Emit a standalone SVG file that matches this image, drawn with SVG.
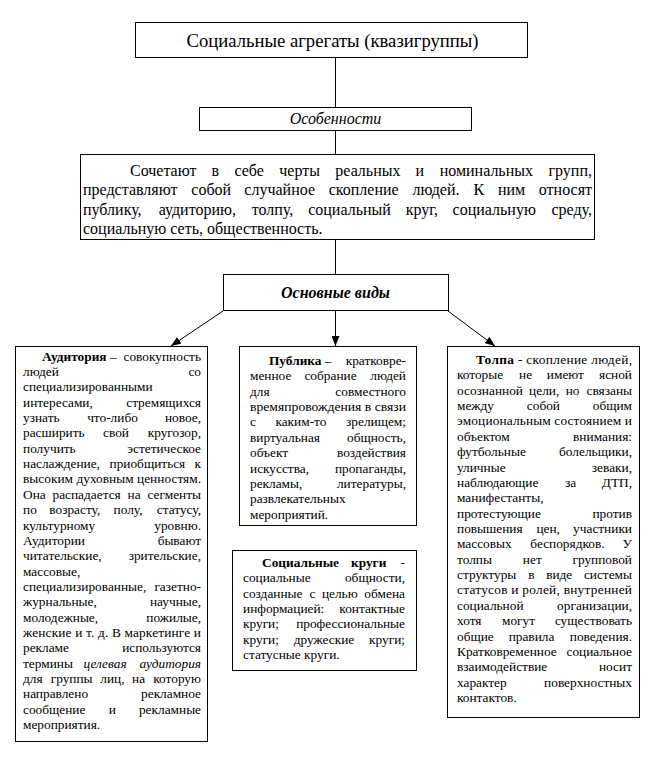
<svg xmlns="http://www.w3.org/2000/svg" width="657" height="767" viewBox="0 0 657 767" font-family="'Liberation Serif', serif">
<style>
text{font-family:'Liberation Serif',serif;font-size:13.33px;fill:#000}
.box{fill:#fff;stroke:#000;stroke-width:1}
.ln{stroke:#000;stroke-width:1;fill:none}
text.d{font-size:16px}
text.h{font-size:18.67px}
.te{text-anchor:end}
.tm{text-anchor:middle}
.b{font-weight:bold}
.i{font-style:italic}
</style>
<defs>
<marker id="ah" markerWidth="10" markerHeight="8" refX="10" refY="4" orient="auto" markerUnits="userSpaceOnUse"><path d="M0,0 L10,4 L0,8 z" fill="#000"/></marker>
</defs>
<rect width="657" height="767" fill="#fff"/>
<g id="connectors">
<line class="ln" x1="335.5" y1="58" x2="335.5" y2="107"/>
<line class="ln" x1="335.5" y1="131" x2="335.5" y2="154"/>
<line class="ln" x1="335.5" y1="240" x2="335.5" y2="274"/>
<line class="ln" x1="223" y1="311" x2="171" y2="346" marker-end="url(#ah)"/>
<line class="ln" x1="335.5" y1="311" x2="335.5" y2="346" marker-end="url(#ah)"/>
<line class="ln" x1="448" y1="311" x2="495" y2="346" marker-end="url(#ah)"/>
</g>
<g id="title">
<rect class="box" x="135.5" y="22.5" width="392" height="35"/>
<text class="tm h" x="332.5" y="46.5">Социальные агрегаты (квазигруппы)</text>
</g>
<g id="features">
<rect class="box" x="199.5" y="107.5" width="272" height="23"/>
<text class="tm i d" x="335.5" y="124">Особенности</text>
</g>
<g id="description">
<rect class="box" x="80.5" y="154.5" width="514" height="85"/>
<text class="d" x="130" y="176">Сочетают</text>
<text class="d tm" x="215.4" y="176">в</text>
<text class="d tm" x="249.2" y="176">себе</text>
<text class="d tm" x="299.6" y="176">черты</text>
<text class="d tm" x="367.9" y="176">реальных</text>
<text class="d tm" x="419.9" y="176">и</text>
<text class="d tm" x="486.3" y="176">номинальных</text>
<text class="d te" x="592" y="176">групп,</text>
<text class="d" x="83" y="195.3">представляют</text>
<text class="d tm" x="211.2" y="195.3">собой</text>
<text class="d tm" x="279.7" y="195.3">случайное</text>
<text class="d tm" x="363.7" y="195.3">скопление</text>
<text class="d tm" x="436" y="195.3">людей.</text>
<text class="d tm" x="478.9" y="195.3">К</text>
<text class="d tm" x="511.6" y="195.3">ним</text>
<text class="d te" x="592" y="195.3">относят</text>
<text class="d" x="83" y="214.6">публику,</text>
<text class="d tm" x="197.3" y="214.6">аудиторию,</text>
<text class="d tm" x="272.4" y="214.6">толпу,</text>
<text class="d tm" x="349.5" y="214.6">социальный</text>
<text class="d tm" x="421.9" y="214.6">круг,</text>
<text class="d tm" x="494.2" y="214.6">социальную</text>
<text class="d te" x="592" y="214.6">среду,</text>
<text class="d" x="83" y="233.9">социальную сеть, общественность.</text>
</g>
<g id="main-types">
<rect class="box" x="223.5" y="274.5" width="225" height="36"/>
<text class="tm b i d" x="335.5" y="297.5">Основные виды</text>
</g>
<g id="audience">
<rect class="box" x="15.5" y="346.5" width="192" height="395"/>
<text x="42" y="360.5"><tspan class="b">Аудитория</tspan> –</text><text class="te" x="201" y="360.5">совокупность</text>
<text x="23" y="375.9">людей</text><text class="te" x="201" y="375.9">со</text>
<text x="23" y="391.2">специализированными</text>
<text x="23" y="406.6">интересами,</text><text class="te" x="201" y="406.6">стремящихся</text>
<text x="23" y="421.9">узнать</text><text class="tm" x="112.5" y="421.9">что-либо</text><text class="te" x="201" y="421.9">новое,</text>
<text x="23" y="437.3">расширить</text><text class="tm" x="116" y="437.3">свой</text><text class="te" x="201" y="437.3">кругозор,</text>
<text x="23" y="452.7">получить</text><text class="te" x="201" y="452.7">эстетическое</text>
<text x="23" y="468">наслаждение,</text><text class="tm" x="147.4" y="468">приобщиться</text><text class="te" x="201" y="468">к</text>
<text x="23" y="483.4" textLength="178" lengthAdjust="spacing">высоким духовным ценностям.</text>
<text x="23" y="498.7">Она</text><text class="tm" x="86.6" y="498.7">распадается</text><text class="tm" x="134.1" y="498.7">на</text><text class="te" x="201" y="498.7">сегменты</text>
<text x="23" y="514.1">по</text><text class="tm" x="74.8" y="514.1">возрасту,</text><text class="tm" x="128" y="514.1">полу,</text><text class="te" x="201" y="514.1">статусу,</text>
<text x="23" y="529.5">культурному</text><text class="te" x="201" y="529.5">уровню.</text>
<text x="23" y="544.8">Аудитории</text><text class="te" x="201" y="544.8">бывают</text>
<text x="23" y="560.2">читательские,</text><text class="te" x="201" y="560.2">зрительские,</text>
<text x="23" y="575.5">массовые,</text>
<text x="23" y="590.9">специализированные,</text><text class="te" x="201" y="590.9">газетно-</text>
<text x="23" y="606.3">журнальные,</text><text class="te" x="201" y="606.3">научные,</text>
<text x="23" y="621.6">молодежные,</text><text class="te" x="201" y="621.6">пожилые,</text>
<text x="23" y="637" textLength="178" lengthAdjust="spacing">женские и т. д. В маркетинге и</text>
<text x="23" y="652.3">рекламе</text><text class="te" x="201" y="652.3">используются</text>
<text x="23" y="667.7">термины</text><text class="tm i" x="105" y="667.7">целевая</text><text class="te i" x="201" y="667.7">аудитория</text>
<text x="23" y="683.1">для</text><text class="tm" x="71.6" y="683.1">группы</text><text class="tm" x="112.4" y="683.1">лиц,</text><text class="tm" x="138.6" y="683.1">на</text><text class="te" x="201" y="683.1">которую</text>
<text x="23" y="698.4">направлено</text><text class="te" x="201" y="698.4">рекламное</text>
<text x="23" y="713.8">сообщение</text><text class="tm" x="112.2" y="713.8">и</text><text class="te" x="201" y="713.8">рекламные</text>
<text x="23" y="729.1">мероприятия.</text>
</g>
<g id="public">
<rect class="box" x="239.5" y="346.5" width="177" height="179"/>
<text x="269" y="365"><tspan class="b">Публика</tspan> –</text><text class="te" x="406" y="365">кратковре-</text>
<text x="250" y="380.4">менное</text><text class="tm" x="330.5" y="380.4">собрание</text><text class="te" x="406" y="380.4">людей</text>
<text x="250" y="395.7">для</text><text class="te" x="406" y="395.7">совместного</text>
<text x="250" y="411.1" textLength="156" lengthAdjust="spacingAndGlyphs">времяпровождения в связи</text>
<text x="250" y="426.4">с</text><text class="tm" x="300.9" y="426.4">каким-то</text><text class="te" x="406" y="426.4">зрелищем;</text>
<text x="250" y="441.8">виртуальная</text><text class="te" x="406" y="441.8">общность,</text>
<text x="250" y="457.2">объект</text><text class="te" x="406" y="457.2">воздействия</text>
<text x="250" y="472.5">искусства,</text><text class="te" x="406" y="472.5">пропаганды,</text>
<text x="250" y="487.9">рекламы,</text><text class="te" x="406" y="487.9">литературы,</text>
<text x="250" y="503.2">развлекательных</text>
<text x="250" y="518.6">мероприятий.</text>
</g>
<g id="social-circles">
<rect class="box" x="232.5" y="550.5" width="184" height="120"/>
<text class="b" x="262" y="567">Социальные</text><text class="tm b" x="368.7" y="567">круги</text><text class="te" x="405" y="567">-</text>
<text x="243" y="582.4">социальные</text><text class="te" x="405" y="582.4">общности,</text>
<text x="243" y="597.7">созданные</text><text class="tm" x="312.4" y="597.7">с</text><text class="tm" x="339.8" y="597.7">целью</text><text class="te" x="405" y="597.7">обмена</text>
<text x="243" y="613.1">информацией:</text><text class="te" x="405" y="613.1">контактные</text>
<text x="243" y="628.4">круги;</text><text class="te" x="405" y="628.4">профессиональные</text>
<text x="243" y="643.8">круги;</text><text class="tm" x="324" y="643.8">дружеские</text><text class="te" x="405" y="643.8">круги;</text>
<text x="243" y="659.2">статусные круги.</text>
</g>
<g id="crowd">
<rect class="box" x="447.5" y="346.5" width="192" height="371"/>
<text x="476" y="364" textLength="156" lengthAdjust="spacing"><tspan class="b">Толпа</tspan> - скопление людей,</text>
<text x="457" y="379.4">которые</text><text class="tm" x="525.6" y="379.4">не</text><text class="tm" x="565.4" y="379.4">имеют</text><text class="te" x="632" y="379.4">ясной</text>
<text x="457" y="394.7">осознанной</text><text class="tm" x="544.2" y="394.7">цели,</text><text class="tm" x="572.6" y="394.7">но</text><text class="te" x="632" y="394.7">связаны</text>
<text x="457" y="410.1">между</text><text class="tm" x="543.4" y="410.1">собой</text><text class="te" x="632" y="410.1">общим</text>
<text x="457" y="425.4" textLength="175" lengthAdjust="spacing">эмоциональным состоянием и</text>
<text x="457" y="440.8">объектом</text><text class="te" x="632" y="440.8">внимания:</text>
<text x="457" y="456.2">футбольные</text><text class="te" x="632" y="456.2">болельщики,</text>
<text x="457" y="471.5">уличные</text><text class="te" x="632" y="471.5">зеваки,</text>
<text x="457" y="486.9">наблюдающие</text><text class="tm" x="570.5" y="486.9">за</text><text class="te" x="632" y="486.9">ДТП,</text>
<text x="457" y="502.2">манифестанты,</text>
<text x="457" y="517.6">протестующие</text><text class="te" x="632" y="517.6">против</text>
<text x="457" y="533">повышения</text><text class="tm" x="548.2" y="533">цен,</text><text class="te" x="632" y="533">участники</text>
<text x="457" y="548.3">массовых</text><text class="tm" x="567.4" y="548.3">беспорядков.</text><text class="te" x="632" y="548.3">У</text>
<text x="457" y="563.7">толпы</text><text class="tm" x="532.3" y="563.7">нет</text><text class="te" x="632" y="563.7">групповой</text>
<text x="457" y="579">структуры</text><text class="tm" x="531.4" y="579">в</text><text class="tm" x="559.2" y="579">виде</text><text class="te" x="632" y="579">системы</text>
<text x="457" y="594.4" textLength="175" lengthAdjust="spacing">статусов и ролей, внутренней</text>
<text x="457" y="609.8">социальной</text><text class="te" x="632" y="609.8">организации,</text>
<text x="457" y="625.1">хотя</text><text class="tm" x="518.5" y="625.1">могут</text><text class="te" x="632" y="625.1">существовать</text>
<text x="457" y="640.5">общие</text><text class="tm" x="531.5" y="640.5">правила</text><text class="te" x="632" y="640.5">поведения.</text>
<text x="457" y="655.8">Кратковременное</text><text class="te" x="632" y="655.8">социальное</text>
<text x="457" y="671.2">взаимодействие</text><text class="te" x="632" y="671.2">носит</text>
<text x="457" y="686.6">характер</text><text class="te" x="632" y="686.6">поверхностных</text>
<text x="457" y="701.9">контактов.</text>
</g>
</svg>
